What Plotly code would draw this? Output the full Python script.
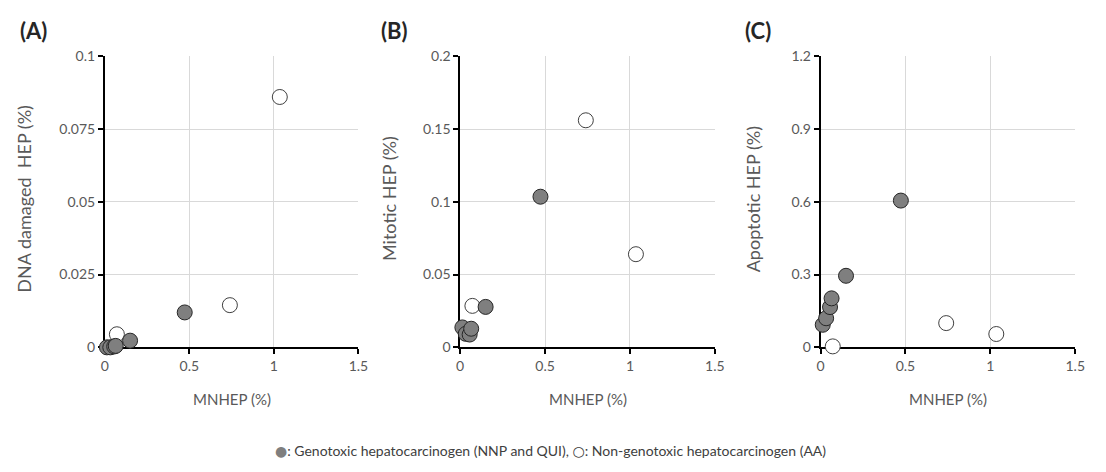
import plotly.graph_objects as go

# ---- data ----
mnhep_geno = [0.013, 0.033, 0.056, 0.065, 0.15, 0.473]
mnhep_nongeno = [0.072, 0.74, 1.035]

dna_geno = [0.0, 0.0, 0.0003, 0.0005, 0.0023, 0.012]
dna_nongeno = [0.0045, 0.0145, 0.086]

mit_geno = [0.0137, 0.0093, 0.0088, 0.0128, 0.0278, 0.1035]
mit_nongeno = [0.0285, 0.156, 0.064]

apo_geno = [0.093, 0.12, 0.166, 0.202, 0.295, 0.605]
apo_nongeno = [0.004, 0.10, 0.055]

panel_labels = ["(A)", "(B)", "(C)"]
y_titles = ["DNA damaged  HEP (%)", "Mitotic HEP (%)", "Apoptotic HEP (%)"]
x_title = "MNHEP (%)"
y_ranges = [[0, 0.1], [0, 0.2], [0, 1.2]]
y_dticks = [0.025, 0.05, 0.3]
x_range = [0, 1.5]
x_dtick = 0.5

W, H = 1106, 472
FONT = "Lato"
TXT = "#595959"
GRID = "#d9d9d9"

x_px = [(102, 359), (462, 720), (827, 1085)]
y_px = (49, 351)
label_x = [14, 380, 748]
ytitle_x = [20, 390, 759]

fig = go.Figure()

series = [(dna_geno, dna_nongeno), (mit_geno, mit_nongeno), (apo_geno, apo_nongeno)]
for i, (g, n) in enumerate(series):
    xa = "x" if i == 0 else f"x{i+1}"
    ya = "y" if i == 0 else f"y{i+1}"
    fig.add_trace(go.Scatter(
        x=mnhep_nongeno, y=n, mode="markers", xaxis=xa, yaxis=ya,
        marker=dict(size=15, color="white", line=dict(color="#404040", width=1)),
        cliponaxis=False, showlegend=False, name="Non-genotoxic"))
    fig.add_trace(go.Scatter(
        x=mnhep_geno, y=g, mode="markers", xaxis=xa, yaxis=ya,
        marker=dict(size=15, color="#7f7f7f", line=dict(color="#262626", width=1)),
        cliponaxis=False, showlegend=False, name="Genotoxic"))

layout = dict(
    width=W, height=H, margin=dict(l=0, r=0, t=0, b=0),
    plot_bgcolor="white", paper_bgcolor="white",
    font=dict(family=FONT, size=13, color=TXT),
)
ydom = [(H - y_px[1]) / H, (H - y_px[0]) / H]
annotations = []
for i in range(3):
    xk = "xaxis" if i == 0 else f"xaxis{i+1}"
    yk = "yaxis" if i == 0 else f"yaxis{i+1}"
    xa = "x" if i == 0 else f"x{i+1}"
    ya = "y" if i == 0 else f"y{i+1}"
    x0, x1 = x_px[i]
    layout[xk] = dict(
        domain=[x0 / W, x1 / W], anchor=ya, range=x_range, dtick=x_dtick, tick0=0,
        showgrid=True, gridcolor=GRID, gridwidth=1, zeroline=False,
        showline=True, linecolor="black", linewidth=1.5, layer="below traces",
        ticks="outside", ticklen=5, tickcolor="black", tickwidth=1.5,
        tickfont=dict(family=FONT, size=14, color=TXT), fixedrange=True)
    layout[yk] = dict(
        domain=ydom, anchor=xa, range=y_ranges[i], dtick=y_dticks[i], tick0=0,
        showgrid=True, gridcolor=GRID, gridwidth=1, zeroline=False,
        showline=True, linecolor="black", linewidth=1.5, layer="below traces",
        ticks="outside", ticklen=5, tickcolor="black", tickwidth=1.5,
        tickfont=dict(family=FONT, size=14, color=TXT), fixedrange=True)
    # panel label
    annotations.append(dict(
        text=f"<b>{panel_labels[i]}</b>", xref="paper", yref="paper",
        x=label_x[i] / W, y=(H - 22) / H, xanchor="left", yanchor="middle",
        showarrow=False, font=dict(family=FONT, size=22, color="#262626")))
    # x title
    annotations.append(dict(
        text=x_title, xref="paper", yref="paper",
        x=(x0 + x1) / 2 / W, y=(H - 405) / H, xanchor="center", yanchor="middle",
        showarrow=False, font=dict(family=FONT, size=15, color=TXT)))
    # y title
    annotations.append(dict(
        text=y_titles[i], xref="paper", yref="paper", textangle=-90,
        x=ytitle_x[i] / W, y=(H - 197) / H, xanchor="center", yanchor="middle",
        showarrow=False, font=dict(family=FONT, size=18, color=TXT)))

annotations.append(dict(
    text="<span style='color:#7f7f7f;font-family:DejaVu Sans;font-size:14px'>●</span>"
         ": Genotoxic hepatocarcinogen (NNP and QUI), "
         "<span style='font-family:DejaVu Sans;font-size:14px'>○</span>"
         ": Non-genotoxic hepatocarcinogen (AA)",
    xref="paper", yref="paper", x=554 / W, y=(H - 458) / H,
    xanchor="center", yanchor="middle", showarrow=False,
    font=dict(family=FONT, size=14, color="#404040")))

layout["annotations"] = annotations
fig.update_layout(**layout)
fig.write_html("out.html", config={"displayModeBar": False},
               post_script="document.body.style.margin='0';")
